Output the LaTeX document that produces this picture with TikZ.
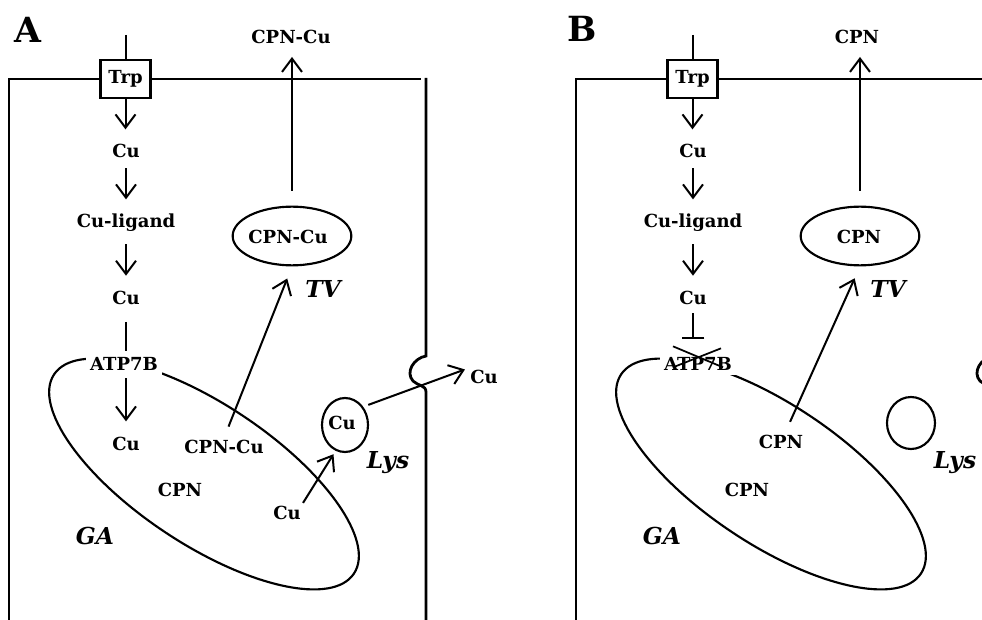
\documentclass[tikz,border=0pt]{standalone}
\usepackage{fontspec}
\setmainfont{DejaVu Serif}
\usetikzlibrary{arrows.meta,shapes.geometric,calc}
\begin{document}
\begin{tikzpicture}[x=0.75pt,y=-0.75pt,
  lab/.style={font=\bfseries\fontsize{13.5}{16}\selectfont, text height=10pt, text depth=3pt, inner sep=1pt, anchor=base},
  ital/.style={font=\bfseries\itshape\fontsize{17.5}{20}\selectfont, inner sep=0pt, anchor=base},
  panel/.style={font=\bfseries\fontsize{26}{30}\selectfont, inner sep=0pt, anchor=base},
  mem/.style={line width=2.1pt},
  ln/.style={line width=1.5pt},
  arr/.style={line width=1.5pt, -{Straight Barb[length=10pt,width=15pt]}},
  inh/.style={line width=1.5pt, -{Bar[width=17pt]}},
  ves/.style={ellipse, draw, line width=1.6pt, inner sep=0pt},
  golgi/.style={line width=1.6pt},
  trpbox/.style={draw, fill=white, line width=1.6pt, minimum width=37.5pt, minimum height=29pt, inner sep=0pt,
    font=\bfseries\fontsize{13.5}{16}\selectfont, text height=10pt, text depth=3pt},
  atp/.style={lab, fill=white, inner xsep=3pt}
]
\useasboundingbox (0,0) rectangle (982,620);
\clip (0,0) rectangle (982,620);

% ---------------- Panel A ----------------
\draw[mem] (9,625) -- (9,79) -- (421,79);
\draw[mem] (426,78) -- (426,356) .. controls (414,358) and (405,372) .. (413,381)
  .. controls (418,386) and (426,385) .. (426,392) -- (426,625);
\draw[golgi, rotate around={-33.6:(204,474)}] (204,474) ellipse [x radius=135pt, y radius=52.5pt];

\node[panel] (pA) at (28,43) {A};
\node[lab] (topA) at (291,44) {CPN-Cu};
\node[trpbox] (trpA) at (125.5,79) {Trp};
\coordinate (inA) at (125.5,35);
\node[lab] (cu1A) at (126,158) {Cu};
\node[lab] (ligA) at (126,228) {Cu-ligand};
\node[lab] (cu2A) at (126,305) {Cu};
\node[atp] (atpA) at (124,370) {ATP7B};
\node[lab] (cu3A) at (126,450) {Cu};
\node[lab] (cpnGA) at (224,453) {CPN-Cu};
\node[lab] (cpnA) at (180,496) {CPN};
\node[lab] (cu4A) at (287,519) {Cu};
\node[ital] (gaA) at (95,544) {GA};
\node[ves, minimum width=89pt, minimum height=44pt] (tvA) at (292,236) {};
\node[lab] (tvtA) at (288,244) {CPN-Cu};
\node[ital] (tvlA) at (323,298) {TV};
\node[ves, minimum width=34.5pt, minimum height=40.5pt] (lysA) at (345,425) {};
\node[lab] (cu5A) at (342,429) {Cu};
\node[ital] (lyslA) at (388,468) {Lys};
\node[lab] (cu6A) at (484,383) {Cu};

\draw[ln] (inA) -- (trpA.north);
\draw[arr, shorten >=10.25pt] (trpA.south) -- (trpA.south |- cu1A.north);
\draw[arr, shorten <=3.5pt, shorten >=10.25pt] (cu1A.south) -- (ligA.north);
\draw[arr, shorten <=8pt, shorten >=10.75pt] (ligA.south) -- (cu2A.north);
\draw[ln, shorten <=8.5pt, shorten >=2.75pt] (cu2A.south) -- (cu2A.south |- atpA.north);
\draw[arr, shorten <=2pt, shorten >=10.25pt] (cu3A.north |- atpA.south) -- (cu3A.north);
\draw[arr, shorten <=9.25pt, shorten >=9.75pt] (cpnGA.north) -- (tvA.south);
\draw[arr, shorten <=11pt, shorten >=5.5pt] (tvA.north) -- (tvA.north |- topA.south);
\draw[arr, shorten <=1pt, shorten >=3pt] (cu4A.north east) -- (lysA.250);
\draw[arr, shorten <=4pt, shorten >=3pt] (lysA.45) -- (cu6A.north west);

% ---------------- Panel B ----------------
\draw[mem] (576,625) -- (576,79) -- (990,79);
\draw[mem] (993,78) -- (993,356) .. controls (981,358) and (972,372) .. (980,381)
  .. controls (985,386) and (993,385) .. (993,392) -- (993,625);
\draw[golgi, rotate around={-33.6:(771,474)}] (771,474) ellipse [x radius=135pt, y radius=52.5pt];

\node[panel] (pB) at (582,42) {B};
\node[lab] (topB) at (857,44) {CPN};
\node[trpbox] (trpB) at (692.5,79) {Trp};
\coordinate (inB) at (692.5,35);
\node[lab] (cu1B) at (693,158) {Cu};
\node[lab] (ligB) at (693,228) {Cu-ligand};
\node[lab] (cu2B) at (693,305) {Cu};
\node[atp] (atpB) at (698,370) {ATP7B};
\node[lab] (cpnGB) at (781,448) {CPN};
\node[lab] (cpnB) at (747,496) {CPN};
\node[ital] (gaB) at (662,544) {GA};
\node[ves, minimum width=89pt, minimum height=44pt] (tvB) at (860,236) {};
\node[lab] (tvtB) at (859,244) {CPN};
\node[ital] (tvlB) at (888,298) {TV};
\node[ves, minimum width=36pt, minimum height=39pt] (lysB) at (911,423) {};
\node[ital] (lyslB) at (955,468) {Lys};

\draw[ln] (inB) -- (trpB.north);
\draw[arr, shorten >=10.25pt] (trpB.south) -- (trpB.south |- cu1B.north);
\draw[arr, shorten <=3.5pt, shorten >=10.25pt] (cu1B.south) -- (ligB.north);
\draw[arr, shorten <=8pt, shorten >=10.75pt] (ligB.south) -- (cu2B.north);
\draw[inh, shorten <=2pt, shorten >=11.75pt] (cu2B.south) -- (cu2B.south |- atpB.north);
\draw[ln, line width=1.3pt] ([shift={(-25,-19)}]atpB.center) -- ([shift={(25,2)}]atpB.center);
\draw[ln, line width=1.3pt] ([shift={(23,-17)}]atpB.center) -- ([shift={(-25,2)}]atpB.center);
\draw[arr, shorten <=9.25pt, shorten >=9.75pt] ([xshift=3pt]cpnGB.north) -- (tvB.south);
\draw[arr, shorten <=11pt, shorten >=5.5pt] (tvB.north) -- (tvB.north |- topB.south);
\end{tikzpicture}
\end{document}
